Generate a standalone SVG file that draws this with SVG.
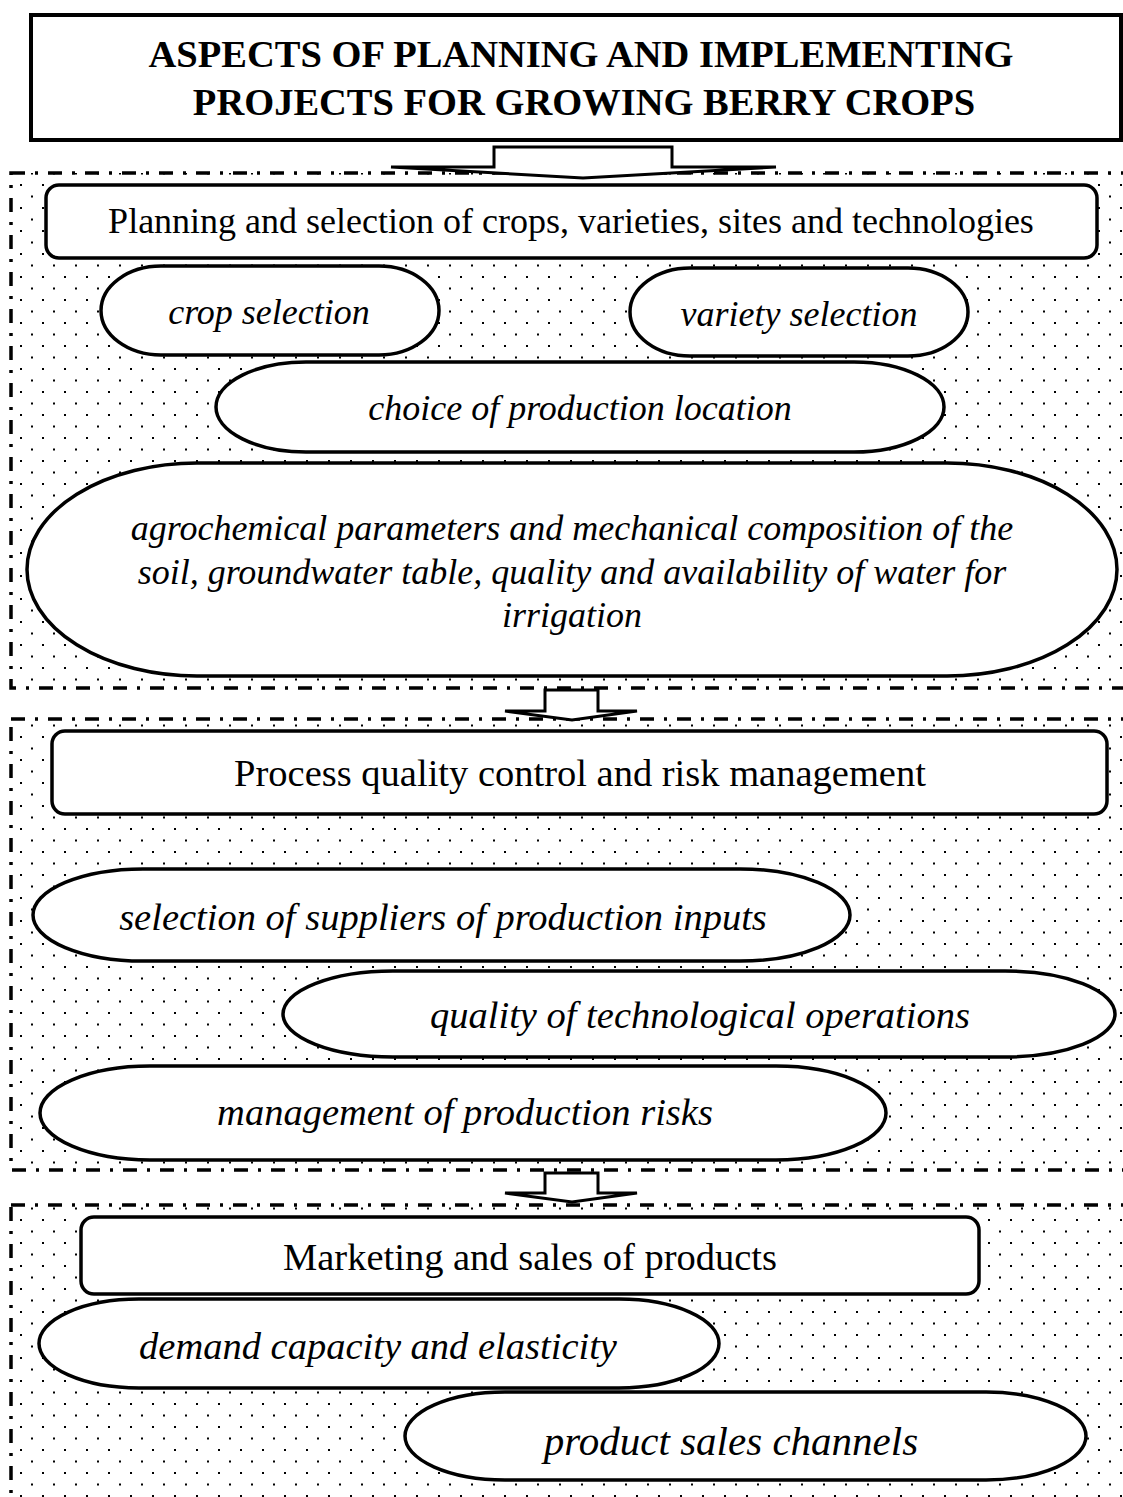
<svg xmlns="http://www.w3.org/2000/svg" width="1123" height="1497" viewBox="0 0 1123 1497">
<defs>
<pattern id="dots" patternUnits="userSpaceOnUse" x="0" y="0" width="22" height="23">
<rect x="20" y="0" width="2" height="2" fill="#000"/>
<rect x="9" y="11.5" width="2" height="2" fill="#000"/>
</pattern>
<style>
.sec{fill:url(#dots);stroke:#000;stroke-width:3.5;stroke-dasharray:14 10 3 10;}
.box{fill:#fff;stroke:#000;stroke-width:3.5;}
.arrow{fill:#fff;stroke:#000;stroke-width:3;stroke-linejoin:miter;}
.t{font-family:"Liberation Serif","Times New Roman",serif;font-size:36px;text-anchor:middle;fill:#000;}
.i{font-family:"Liberation Serif","Times New Roman",serif;font-size:36px;font-style:italic;text-anchor:middle;fill:#000;}
.lg{font-size:38.5px;}
.xl{font-size:41px;}
.h{font-family:"Liberation Serif","Times New Roman",serif;font-size:38.5px;font-weight:bold;text-anchor:middle;fill:#000;}
</style>
</defs>
<rect width="1123" height="1497" fill="#fff"/>
<g id="sections">
<rect id="section1" class="sec" x="11" y="173" width="1114" height="515"/>
<rect id="section2" class="sec" x="11" y="719" width="1114" height="451"/>
<rect id="section3" class="sec" x="11" y="1205" width="1114" height="300"/>
</g>
<g id="title">
<rect x="31" y="15" width="1090" height="125" fill="#fff" stroke="#000" stroke-width="4"/>
<text class="h" x="581" y="67">ASPECTS OF PLANNING AND IMPLEMENTING</text>
<text class="h" x="584" y="115">PROJECTS FOR GROWING BERRY CROPS</text>
</g>
<g id="connectors">
<polygon class="arrow" points="494,147 672,147 672,167 776,167 583,178 391,167 494,167"/>
<polygon class="arrow" points="545,690 598,690 598,711 637,711 572,720 505,711 545,711"/>
<polygon class="arrow" points="545,1173 598,1173 598,1193 637,1193 572,1202 505,1193 545,1193"/>
</g>
<g id="planning">
<rect class="box" x="46" y="185" width="1051" height="73" rx="13"/>
<text class="t" x="571" y="233">Planning and selection of crops, varieties, sites and technologies</text>
</g>
<g id="crop-selection">
<rect class="box" x="101" y="266" width="338" height="89" rx="60" ry="44.5"/>
<text class="i" x="269" y="324">crop selection</text>
</g>
<g id="variety-selection">
<rect class="box" x="630" y="268" width="338" height="88" rx="60" ry="44"/>
<text class="i" x="799" y="326">variety selection</text>
</g>
<g id="location">
<rect class="box" x="216" y="362" width="728" height="90" rx="90" ry="45"/>
<text class="i" x="580" y="420">choice of production location</text>
</g>
<g id="agrochemical">
<rect class="box" x="27" y="463" width="1090" height="213" rx="170" ry="106.5"/>
<text class="i" x="572" y="540">agrochemical parameters and mechanical composition of the</text>
<text class="i" x="572" y="584">soil, groundwater table, quality and availability of water for</text>
<text class="i" x="572" y="627">irrigation</text>
</g>
<g id="process">
<rect class="box" x="52" y="731" width="1055" height="83" rx="13"/>
<text class="t lg" x="580" y="786">Process quality control and risk management</text>
</g>
<g id="suppliers">
<rect class="box" x="33" y="869" width="817" height="92" rx="110" ry="46"/>
<text class="i lg" x="443" y="930">selection of suppliers of production inputs</text>
</g>
<g id="operations">
<rect class="box" x="283" y="971" width="832" height="86" rx="110" ry="43"/>
<text class="i lg" x="700" y="1028">quality of technological operations</text>
</g>
<g id="risks">
<rect class="box" x="40" y="1066" width="846" height="94" rx="110" ry="47"/>
<text class="i lg" x="465" y="1125">management of production risks</text>
</g>
<g id="marketing">
<rect class="box" x="81" y="1217" width="898" height="77" rx="13"/>
<text class="t lg" x="530" y="1270">Marketing and sales of products</text>
</g>
<g id="demand">
<rect class="box" x="39" y="1299" width="680" height="89" rx="100" ry="44.5"/>
<text class="i lg" x="378" y="1359">demand capacity and elasticity</text>
</g>
<g id="channels">
<rect class="box" x="405" y="1392" width="681" height="88" rx="100" ry="44"/>
<text class="i xl" x="731" y="1455">product sales channels</text>
</g>
</svg>
